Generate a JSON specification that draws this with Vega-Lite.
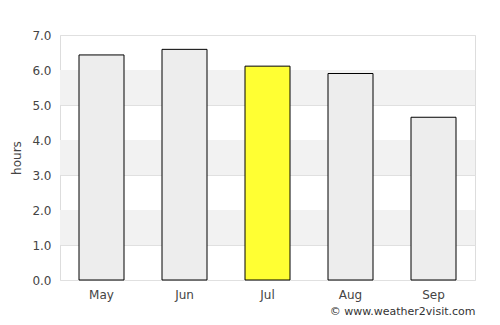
{
  "$schema": "https://vega.github.io/schema/vega-lite/v6.json",
  "width": 415,
  "height": 245,
  "autosize": {"type": "none"},
  "padding": {"left": 60, "top": 35, "right": 25, "bottom": 45},
  "background": "white",
  "config": {
    "font": "DejaVu Sans",
    "view": {"stroke": "#dddddd", "strokeWidth": 1},
    "axis": {"labelColor": "#444444", "titleColor": "#444444", "labelFontSize": 12, "titleFontSize": 12, "titleFontWeight": "normal", "ticks": false, "domain": false}
  },
  "datasets": {
    "sun": [
      {"month": "May", "hours": 6.43, "highlight": "no"},
      {"month": "Jun", "hours": 6.59, "highlight": "no"},
      {"month": "Jul", "hours": 6.11, "highlight": "yes"},
      {"month": "Aug", "hours": 5.9, "highlight": "no"},
      {"month": "Sep", "hours": 4.65, "highlight": "no"}
    ],
    "bands": [
      {"lo": 1, "hi": 2},
      {"lo": 3, "hi": 4},
      {"lo": 5, "hi": 6}
    ]
  },
  "layer": [
    {
      "data": {"name": "bands"},
      "mark": {"type": "rect", "color": "#f2f2f2"},
      "encoding": {
        "y": {
          "field": "lo",
          "type": "quantitative",
          "scale": {"domain": [0, 7]},
          "axis": {
            "title": "hours",
            "titlePadding": 8,
            "values": [0, 1, 2, 3, 4, 5, 6, 7],
            "format": ".1f",
            "labelPadding": 9,
            "labelOverlap": false,
            "labelFlush": false,
            "grid": true,
            "gridColor": "#e0e0e0"
          }
        },
        "y2": {"field": "hi"}
      }
    },
    {
      "data": {"name": "sun"},
      "mark": {"type": "bar", "size": 45, "stroke": "#000000", "strokeWidth": 1},
      "encoding": {
        "x": {
          "field": "month",
          "type": "nominal",
          "sort": null,
          "scale": {"paddingInner": 0, "paddingOuter": 0},
          "axis": {
            "title": "© www.weather2visit.com",
            "titleAnchor": "end",
            "titleAlign": "right",
            "titleColor": "#333333",
            "titleFontSize": 11,
            "titlePadding": 5,
            "labelAngle": 0,
            "labelPadding": 9
          }
        },
        "y": {
          "field": "hours",
          "type": "quantitative",
          "scale": {"domain": [0, 7]},
          "axis": {
            "title": "hours",
            "titlePadding": 8,
            "values": [0, 1, 2, 3, 4, 5, 6, 7],
            "format": ".1f",
            "labelPadding": 9,
            "labelOverlap": false,
            "labelFlush": false,
            "grid": true,
            "gridColor": "#e0e0e0"
          }
        },
        "color": {
          "field": "highlight",
          "type": "nominal",
          "scale": {"domain": ["no", "yes"], "range": ["#ededed", "#ffff33"]},
          "legend": null
        }
      }
    }
  ]
}
